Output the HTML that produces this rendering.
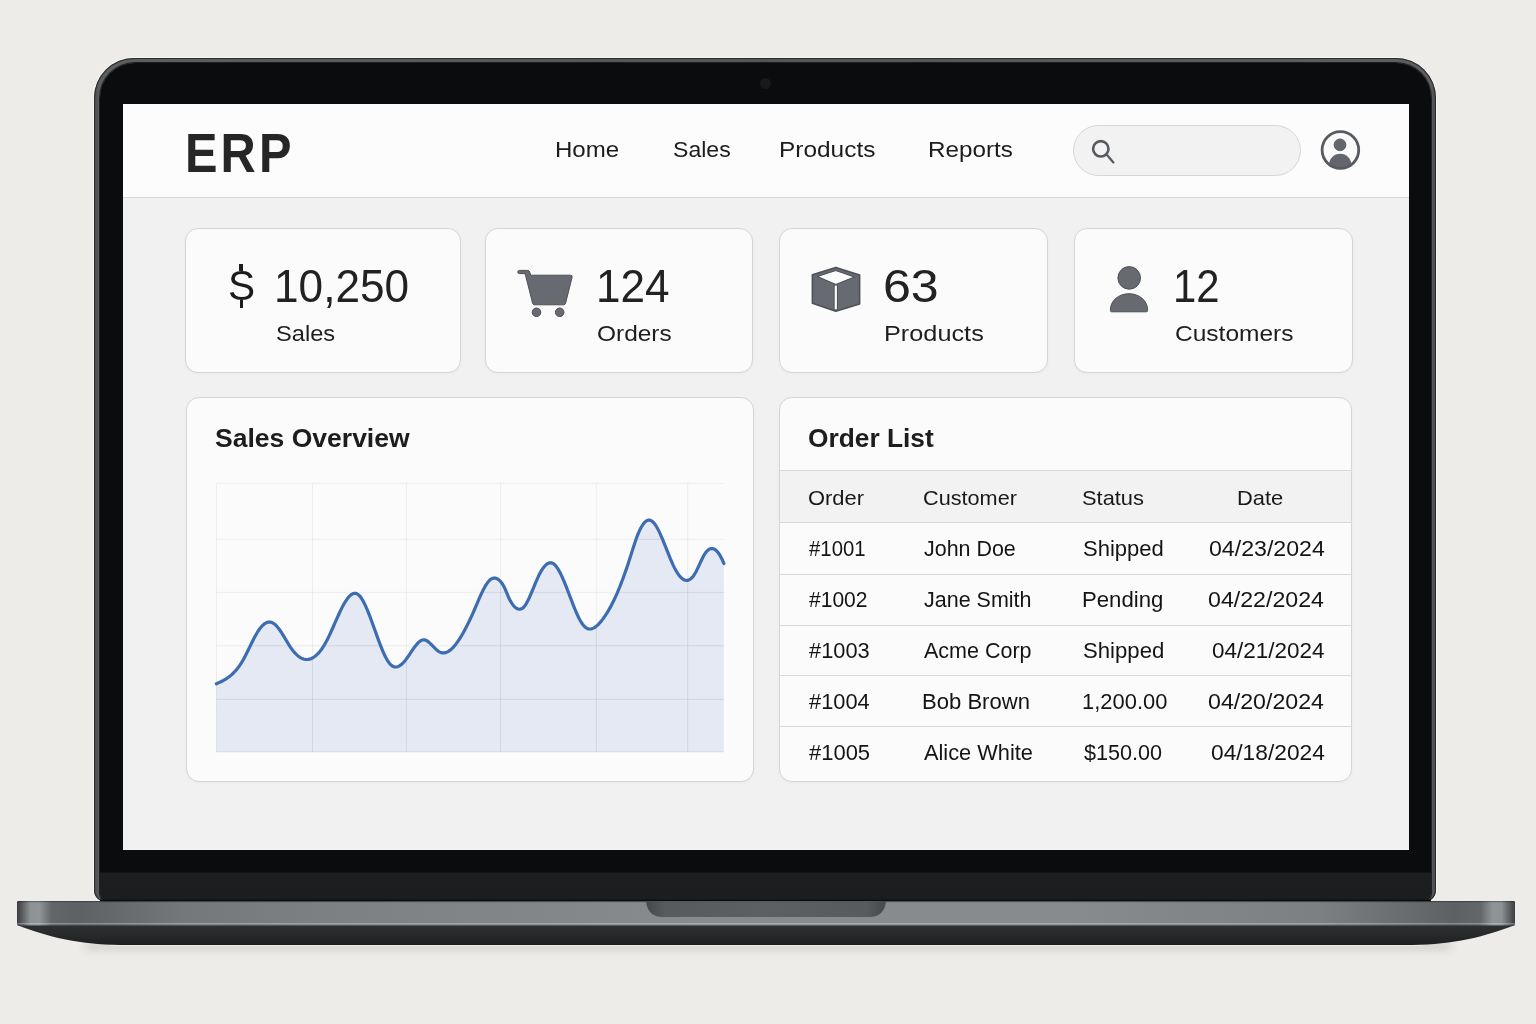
<!DOCTYPE html>
<html><head><meta charset="utf-8"><style>
*{margin:0;padding:0;box-sizing:border-box}
html,body{width:1536px;height:1024px;overflow:hidden;background:#edece8;font-family:"Liberation Sans", sans-serif}
.t{position:absolute;line-height:1;white-space:nowrap}
#lid{position:absolute;left:94px;top:57.5px;width:1342px;height:844px;border-radius:40px 40px 12px 12px;
 background:linear-gradient(90deg,#464849,#5c5e60 0.4%,#535557 50%,#5c5e60 99.6%,#464849);box-shadow:inset 0 0 0 1px #2a2b2d,0 0 0 1px rgba(255,255,255,0.55)}
#lidin{position:absolute;left:5.5px;top:5.5px;right:5.5px;bottom:0;border-radius:35px 35px 8px 8px;
 background:linear-gradient(180deg,#0b0c0e 0,#0b0c0e 809px,#1c1e20 810px,#1b1d1f 840px);box-shadow:0 0 0 1px #1f2022}
#cam{position:absolute;left:760.2px;top:78.3px;width:11px;height:11px;border-radius:50%;background:#18191b}
#screen{position:absolute;left:122.5px;top:103.5px;width:1286px;height:746px;background:#f1f1f1}
#header{position:absolute;left:122.5px;top:103.5px;width:1286px;height:94px;background:#fcfcfc;border-bottom:1px solid #d8d8d8}
#search{position:absolute;left:1072.5px;top:125px;width:228px;height:50.5px;border-radius:26px;background:#f2f2f2;border:1px solid #d6d6d6}
.card{position:absolute;background:#fcfbfb;border:1px solid #d5d5d5;border-radius:13px;box-shadow:0 1px 3px rgba(0,0,0,0.035)}
.hl{position:absolute;left:780px;width:572px;height:1px;background:#d9d9d9}
#thead{position:absolute;left:0;top:73px;width:100%;height:51px;background:#f2f2f2}
#base{position:absolute;left:17px;top:901px;width:1498px;height:25px;border-radius:2px 2px 0 0;
 background:linear-gradient(180deg,rgba(0,0,0,0.25) 0px,rgba(0,0,0,0) 1.5px,rgba(0,0,0,0) 22px,rgba(255,255,255,0.35) 23px,rgba(255,255,255,0.3) 24px,rgba(0,0,0,0.3) 25px),
 linear-gradient(90deg,#3a3c3e 0px,#54585b 4px,#8c9194 14px,#8f9497 22px,#62666a 34px,#5c6063 60px,#74787b 160px,#7c8083 300px,#868a8d 700px,#888c8f 1000px,#7e8285 1300px,#62666a 1462px,#8e9396 1478px,#8a8e91 1486px,#54585b 1494px,#3a3c3e 1498px)}
#notch{position:absolute;left:646px;top:902px;width:240px;height:15.5px;border-radius:0 0 16px 16px / 0 0 14px 14px;
 background:linear-gradient(90deg,#45494c 0%,#5a5e61 8%,#5e6265 50%,#5a5e61 92%,#45494c 100%)}
#basebot{position:absolute;left:17px;top:925.5px;width:1498px;height:19.5px;border-radius:0 0 95px 95px / 0 0 19.5px 19.5px;
 background:linear-gradient(180deg,#2c2e30 0%,#26282a 40%,#1d1f21 100%)}
#shadow{position:absolute;left:70px;top:925px;width:1396px;height:20px;border-radius:40%;box-shadow:0 10px 16px rgba(0,0,0,0.22)}
</style></head>
<body>
<div id="lid"><div id="lidin"></div></div><div style="position:absolute;left:106px;top:894px;width:1318px;height:8px;background:#1b1d1f"></div>
<div id="cam"></div>
<svg style="position:absolute;left:0;top:880px" width="1536" height="110" viewBox="0 880 1536 110">
<defs>
<filter id="bl" x="-10%" y="-200%" width="120%" height="500%"><feGaussianBlur stdDeviation="5"/></filter>
<linearGradient id="bh" x1="17" y1="0" x2="1515" y2="0" gradientUnits="userSpaceOnUse">
<stop offset="0" stop-color="#3a3c3e"/><stop offset="0.003" stop-color="#55595c"/><stop offset="0.009" stop-color="#8d9295"/>
<stop offset="0.015" stop-color="#8f9497"/><stop offset="0.023" stop-color="#63676a"/><stop offset="0.04" stop-color="#5d6164"/>
<stop offset="0.11" stop-color="#74787b"/><stop offset="0.2" stop-color="#7c8083"/><stop offset="0.45" stop-color="#878b8e"/>
<stop offset="0.7" stop-color="#878b8e"/><stop offset="0.87" stop-color="#7c8083"/><stop offset="0.96" stop-color="#5d6164"/>
<stop offset="0.977" stop-color="#63676a"/><stop offset="0.985" stop-color="#8f9497"/><stop offset="0.991" stop-color="#8d9295"/>
<stop offset="0.997" stop-color="#55595c"/><stop offset="1" stop-color="#3a3c3e"/></linearGradient>
<linearGradient id="bv" x1="0" y1="925" x2="0" y2="945" gradientUnits="userSpaceOnUse">
<stop offset="0" stop-color="#2e3032"/><stop offset="0.5" stop-color="#27292b"/><stop offset="1" stop-color="#1c1e20"/></linearGradient>
<linearGradient id="nh" x1="646" y1="0" x2="886" y2="0" gradientUnits="userSpaceOnUse">
<stop offset="0" stop-color="#44484b"/><stop offset="0.08" stop-color="#575b5e"/><stop offset="0.5" stop-color="#5c6063"/>
<stop offset="0.92" stop-color="#575b5e"/><stop offset="1" stop-color="#44484b"/></linearGradient>
</defs>
<path d="M85 943 L1451 943 L1451 949 L85 949 Z" fill="rgba(0,0,0,0.17)" filter="url(#bl)"/>
<path d="M17 925 C48 937 78 944.5 120 945 L1412 945 C1454 944.5 1484 937 1515 925 Z" fill="url(#bv)"/>
<path d="M17 945.2 M110 945.6 L1422 945.6" stroke="rgba(255,255,255,0.5)" stroke-width="1"/>
<rect x="17" y="901" width="1498" height="24.5" rx="1.5" fill="url(#bh)"/>
<rect x="17" y="901" width="1498" height="1.2" fill="rgba(0,0,0,0.3)"/>
<rect x="100" y="899.6" width="1331" height="1.6" fill="#0c0d0f"/>
<rect x="17" y="923" width="1498" height="1.3" fill="rgba(255,255,255,0.28)"/>
<path d="M646 901.5 C647.5 911 651.5 917 663 917 L869 917 C880.5 917 884.5 911 886 901.5 Z" fill="url(#nh)"/>
</svg>
<div id="screen"></div>
<div id="header"></div>
<div class="t" style="left:185.0px;top:126.0px;font-size:55px;font-weight:700;color:#262626;letter-spacing:3.5px;transform:scaleX(0.8861530875617353);transform-origin:0 0;">ERP</div>
<div class="t" style="left:555.0px;top:139.0px;font-size:22px;font-weight:400;color:#1c1c1c;letter-spacing:0px;transform:scaleX(1.0933317688638737);transform-origin:0 0;">Home</div>
<div class="t" style="left:672.6px;top:139.0px;font-size:22px;font-weight:400;color:#1c1c1c;letter-spacing:0px;transform:scaleX(1.0480200973459943);transform-origin:0 0;">Sales</div>
<div class="t" style="left:779.0px;top:139.0px;font-size:22px;font-weight:400;color:#1c1c1c;letter-spacing:0px;transform:scaleX(1.1105703552302721);transform-origin:0 0;">Products</div>
<div class="t" style="left:927.6px;top:139.0px;font-size:22px;font-weight:400;color:#1c1c1c;letter-spacing:0px;transform:scaleX(1.1008968909039187);transform-origin:0 0;">Reports</div>
<div id="search"></div>
<svg style="position:absolute;left:0;top:100px" width="1536" height="100" viewBox="0 100 1536 100">
<circle cx="1100.8" cy="148.8" r="7.7" fill="none" stroke="#575b60" stroke-width="2.6"/>
<line x1="1106.6" y1="154.6" x2="1113.4" y2="162.4" stroke="#575b60" stroke-width="2.3" stroke-linecap="round"/>
<defs><clipPath id="cc"><circle cx="1340.4" cy="150" r="18.3"/></clipPath></defs>
<circle cx="1340.4" cy="150" r="18.3" fill="#fafafa"/>
<circle cx="1340" cy="144.8" r="5.9" fill="#63676d" stroke="#4d5157" stroke-width="0.8"/>
<ellipse cx="1340.2" cy="165" rx="11.2" ry="11.3" fill="#63676d" clip-path="url(#cc)"/>
<circle cx="1340.4" cy="150" r="18.3" fill="none" stroke="#575b60" stroke-width="2.8"/></svg>
<div class="card" style="left:185px;top:228px;width:275.5px;height:145px"></div>
<div class="card" style="left:485px;top:228px;width:268.29999999999995px;height:145px"></div>
<div class="card" style="left:779px;top:228px;width:269.29999999999995px;height:145px"></div>
<div class="card" style="left:1074px;top:228px;width:279px;height:145px"></div>
<div class="t" style="left:228.1px;top:264.2px;font-size:43px;font-weight:400;color:#1c1c1c;letter-spacing:0px;transform:scaleX(0.94420930056711);transform-origin:0 0;">S</div>
<div style="position:absolute;left:239.3px;top:263.8px;width:3.7px;height:7px;background:#1c1c1c"></div>
<div style="position:absolute;left:239.6px;top:299.5px;width:3.7px;height:8.3px;background:#1c1c1c"></div>
<div class="t" style="left:273.6px;top:262.4px;font-size:47px;font-weight:400;color:#222;letter-spacing:0px;transform:scaleX(0.939939076622231);transform-origin:0 0;">10,250</div>
<div class="t" style="left:276.0px;top:323.9px;font-size:21.5px;font-weight:400;color:#1e1e1e;letter-spacing:0px;transform:scaleX(1.0990511340197688);transform-origin:0 0;">Sales</div>
<div class="t" style="left:596.0px;top:262.4px;font-size:47px;font-weight:400;color:#222;letter-spacing:0px;transform:scaleX(0.9372030994139298);transform-origin:0 0;">124</div>
<div class="t" style="left:597.0px;top:323.9px;font-size:21.5px;font-weight:400;color:#1e1e1e;letter-spacing:0px;transform:scaleX(1.137528825570547);transform-origin:0 0;">Orders</div>
<div class="t" style="left:882.6px;top:262.4px;font-size:47px;font-weight:400;color:#222;letter-spacing:0px;transform:scaleX(1.0650908548061326);transform-origin:0 0;">63</div>
<div class="t" style="left:884.2px;top:323.9px;font-size:21.5px;font-weight:400;color:#1e1e1e;letter-spacing:0px;transform:scaleX(1.1759486859690271);transform-origin:0 0;">Products</div>
<div class="t" style="left:1173.3px;top:262.4px;font-size:47px;font-weight:400;color:#222;letter-spacing:0px;transform:scaleX(0.8894179894179894);transform-origin:0 0;">12</div>
<div class="t" style="left:1175.0px;top:323.9px;font-size:21.5px;font-weight:400;color:#1e1e1e;letter-spacing:0px;transform:scaleX(1.140313476099118);transform-origin:0 0;">Customers</div>
<svg style="position:absolute;left:0;top:0" width="1536" height="400" viewBox="0 0 1536 400">
<g stroke="#4d5157" stroke-width="1" stroke-linejoin="round">
<path d="M519.4 270.4 H527.6 Q529.3 270.4 529.8 272.2 L530.6 275.2 H570.6 Q572.6 275.2 572.1 277.2 L565.6 303.2 Q565.2 304.8 563.6 304.8 H534.6 Q533 304.8 532.6 303.2 L525.1 273.6 H519.4 Q517.8 273.6 517.8 272 Q517.8 270.4 519.4 270.4 Z" fill="#676b71"/>
<circle cx="536.5" cy="312.3" r="4.3" fill="#676b71"/><circle cx="559.7" cy="312.3" r="4.3" fill="#676b71"/>
<path d="M835.8 267.4 L859.6 275 L859.6 303.9 L835.8 311.2 L812.4 303.2 L812.4 274.7 Z" fill="#676b71" stroke-width="1.6"/>
<path d="M835.8 270.4 L854.4 276.9 L835.8 284.6 L817.3 276.6 Z" fill="#fcfcfc" stroke-width="1.1"/>
<path d="M835.8 285.2 V309.6" stroke="#4d5157" stroke-width="4.2"/>
<path d="M835.8 285.6 V309.2" stroke="#fcfcfc" stroke-width="2.2"/>
<circle cx="1129.2" cy="277.9" r="11.3" fill="#676b71"/>
<path d="M1110.4 310.6 V309.5 A18.6 15.8 0 0 1 1147.6 309.5 V310.6 Q1147.6 311.8 1146.4 311.8 H1111.6 Q1110.4 311.8 1110.4 310.6 Z" fill="#676b71"/>
</g>
</svg>
<div class="card" style="left:185.5px;top:396.5px;width:568px;height:385px"></div>
<div class="card" style="left:779px;top:396.5px;width:573.4px;height:385px;overflow:hidden"><div id="thead"></div></div>
<div class="t" style="left:215.2px;top:425.2px;font-size:26px;font-weight:700;color:#1d1d1d;letter-spacing:0px;transform:scaleX(1.0200435431999266);transform-origin:0 0;">Sales Overview</div>
<div class="t" style="left:808.1px;top:425.2px;font-size:26px;font-weight:700;color:#1d1d1d;letter-spacing:0px;transform:scaleX(1.0116714705306344);transform-origin:0 0;">Order List</div>
<svg style="position:absolute;left:0;top:0" width="1536" height="1024" viewBox="0 0 1536 1024">
<defs><clipPath id="fillclip"><path d="M216.4 683.77 L217.4 683.33 L218.4 682.88 L219.4 682.42 L220.4 681.95 L221.4 681.46 L222.4 680.95 L223.4 680.42 L224.4 679.85 L225.4 679.26 L226.4 678.64 L227.4 677.97 L228.4 677.27 L229.4 676.52 L230.4 675.72 L231.4 674.87 L232.4 673.97 L233.4 673.01 L234.4 671.99 L235.4 670.90 L236.4 669.74 L237.4 668.52 L238.4 667.22 L239.4 665.84 L240.4 664.37 L241.4 662.83 L242.4 661.19 L243.4 659.46 L244.4 657.64 L245.4 655.74 L246.4 653.78 L247.4 651.77 L248.4 649.73 L249.4 647.67 L250.4 645.60 L251.4 643.55 L252.4 641.51 L253.4 639.52 L254.4 637.58 L255.4 635.72 L256.4 633.93 L257.4 632.24 L258.4 630.67 L259.4 629.22 L260.4 627.90 L261.4 626.70 L262.4 625.64 L263.4 624.71 L264.4 623.92 L265.4 623.26 L266.4 622.75 L267.4 622.37 L268.4 622.15 L269.4 622.07 L270.4 622.13 L271.4 622.36 L272.4 622.73 L273.4 623.26 L274.4 623.95 L275.4 624.80 L276.4 625.80 L277.4 626.93 L278.4 628.18 L279.4 629.53 L280.4 630.98 L281.4 632.49 L282.4 634.07 L283.4 635.69 L284.4 637.34 L285.4 639.01 L286.4 640.68 L287.4 642.34 L288.4 643.97 L289.4 645.55 L290.4 647.08 L291.4 648.53 L292.4 649.90 L293.4 651.18 L294.4 652.37 L295.4 653.46 L296.4 654.47 L297.4 655.39 L298.4 656.21 L299.4 656.94 L300.4 657.58 L301.4 658.13 L302.4 658.59 L303.4 658.95 L304.4 659.23 L305.4 659.40 L306.4 659.49 L307.4 659.48 L308.4 659.38 L309.4 659.19 L310.4 658.90 L311.4 658.52 L312.4 658.04 L313.4 657.47 L314.4 656.80 L315.4 656.04 L316.4 655.18 L317.4 654.23 L318.4 653.18 L319.4 652.04 L320.4 650.80 L321.4 649.47 L322.4 648.03 L323.4 646.50 L324.4 644.88 L325.4 643.16 L326.4 641.33 L327.4 639.42 L328.4 637.41 L329.4 635.34 L330.4 633.19 L331.4 631.00 L332.4 628.77 L333.4 626.51 L334.4 624.23 L335.4 621.96 L336.4 619.69 L337.4 617.43 L338.4 615.22 L339.4 613.04 L340.4 610.92 L341.4 608.87 L342.4 606.90 L343.4 605.02 L344.4 603.24 L345.4 601.58 L346.4 600.04 L347.4 598.64 L348.4 597.38 L349.4 596.27 L350.4 595.32 L351.4 594.54 L352.4 593.95 L353.4 593.55 L354.4 593.35 L355.4 593.36 L356.4 593.59 L357.4 594.05 L358.4 594.74 L359.4 595.68 L360.4 596.85 L361.4 598.23 L362.4 599.80 L363.4 601.56 L364.4 603.49 L365.4 605.57 L366.4 607.78 L367.4 610.13 L368.4 612.58 L369.4 615.12 L370.4 617.75 L371.4 620.44 L372.4 623.18 L373.4 625.95 L374.4 628.75 L375.4 631.55 L376.4 634.35 L377.4 637.12 L378.4 639.85 L379.4 642.53 L380.4 645.14 L381.4 647.67 L382.4 650.11 L383.4 652.43 L384.4 654.63 L385.4 656.70 L386.4 658.60 L387.4 660.34 L388.4 661.89 L389.4 663.25 L390.4 664.39 L391.4 665.32 L392.4 666.03 L393.4 666.54 L394.4 666.86 L395.4 666.99 L396.4 666.95 L397.4 666.75 L398.4 666.38 L399.4 665.87 L400.4 665.21 L401.4 664.43 L402.4 663.53 L403.4 662.51 L404.4 661.39 L405.4 660.17 L406.4 658.87 L407.4 657.49 L408.4 656.06 L409.4 654.59 L410.4 653.10 L411.4 651.61 L412.4 650.13 L413.4 648.68 L414.4 647.28 L415.4 645.95 L416.4 644.70 L417.4 643.55 L418.4 642.53 L419.4 641.64 L420.4 640.90 L421.4 640.33 L422.4 639.96 L423.4 639.79 L424.4 639.84 L425.4 640.09 L426.4 640.52 L427.4 641.12 L428.4 641.84 L429.4 642.68 L430.4 643.60 L431.4 644.58 L432.4 645.60 L433.4 646.64 L434.4 647.67 L435.4 648.67 L436.4 649.61 L437.4 650.47 L438.4 651.23 L439.4 651.86 L440.4 652.34 L441.4 652.68 L442.4 652.88 L443.4 652.94 L444.4 652.87 L445.4 652.67 L446.4 652.35 L447.4 651.91 L448.4 651.35 L449.4 650.69 L450.4 649.92 L451.4 649.06 L452.4 648.10 L453.4 647.05 L454.4 645.91 L455.4 644.69 L456.4 643.40 L457.4 642.03 L458.4 640.59 L459.4 639.09 L460.4 637.52 L461.4 635.89 L462.4 634.20 L463.4 632.45 L464.4 630.64 L465.4 628.77 L466.4 626.85 L467.4 624.88 L468.4 622.85 L469.4 620.78 L470.4 618.66 L471.4 616.50 L472.4 614.30 L473.4 612.05 L474.4 609.76 L475.4 607.44 L476.4 605.10 L477.4 602.76 L478.4 600.43 L479.4 598.13 L480.4 595.88 L481.4 593.69 L482.4 591.59 L483.4 589.58 L484.4 587.68 L485.4 585.92 L486.4 584.30 L487.4 582.84 L488.4 581.56 L489.4 580.48 L490.4 579.61 L491.4 578.93 L492.4 578.45 L493.4 578.17 L494.4 578.07 L495.4 578.17 L496.4 578.44 L497.4 578.91 L498.4 579.55 L499.4 580.36 L500.4 581.35 L501.4 582.53 L502.4 583.93 L503.4 585.57 L504.4 587.47 L505.4 589.66 L506.4 592.03 L507.4 594.46 L508.4 596.82 L509.4 598.98 L510.4 600.92 L511.4 602.65 L512.4 604.16 L513.4 605.47 L514.4 606.57 L515.4 607.48 L516.4 608.19 L517.4 608.72 L518.4 609.06 L519.4 609.21 L520.4 609.15 L521.4 608.86 L522.4 608.31 L523.4 607.48 L524.4 606.36 L525.4 604.99 L526.4 603.38 L527.4 601.57 L528.4 599.59 L529.4 597.45 L530.4 595.20 L531.4 592.86 L532.4 590.46 L533.4 588.03 L534.4 585.59 L535.4 583.18 L536.4 580.81 L537.4 578.53 L538.4 576.36 L539.4 574.33 L540.4 572.43 L541.4 570.69 L542.4 569.10 L543.4 567.68 L544.4 566.42 L545.4 565.34 L546.4 564.44 L547.4 563.73 L548.4 563.21 L549.4 562.88 L550.4 562.76 L551.4 562.86 L552.4 563.17 L553.4 563.70 L554.4 564.46 L555.4 565.45 L556.4 566.65 L557.4 568.06 L558.4 569.64 L559.4 571.40 L560.4 573.31 L561.4 575.36 L562.4 577.53 L563.4 579.81 L564.4 582.19 L565.4 584.64 L566.4 587.16 L567.4 589.73 L568.4 592.33 L569.4 594.95 L570.4 597.58 L571.4 600.19 L572.4 602.78 L573.4 605.33 L574.4 607.82 L575.4 610.24 L576.4 612.58 L577.4 614.81 L578.4 616.93 L579.4 618.92 L580.4 620.76 L581.4 622.45 L582.4 623.95 L583.4 625.27 L584.4 626.38 L585.4 627.29 L586.4 627.99 L587.4 628.51 L588.4 628.85 L589.4 629.02 L590.4 629.02 L591.4 628.88 L592.4 628.58 L593.4 628.15 L594.4 627.60 L595.4 626.92 L596.4 626.14 L597.4 625.26 L598.4 624.28 L599.4 623.22 L600.4 622.09 L601.4 620.89 L602.4 619.62 L603.4 618.29 L604.4 616.89 L605.4 615.43 L606.4 613.90 L607.4 612.30 L608.4 610.64 L609.4 608.91 L610.4 607.11 L611.4 605.24 L612.4 603.30 L613.4 601.29 L614.4 599.22 L615.4 597.07 L616.4 594.85 L617.4 592.56 L618.4 590.20 L619.4 587.76 L620.4 585.26 L621.4 582.69 L622.4 580.05 L623.4 577.35 L624.4 574.58 L625.4 571.75 L626.4 568.86 L627.4 565.91 L628.4 562.91 L629.4 559.85 L630.4 556.73 L631.4 553.57 L632.4 550.39 L633.4 547.24 L634.4 544.15 L635.4 541.16 L636.4 538.31 L637.4 535.64 L638.4 533.16 L639.4 530.89 L640.4 528.81 L641.4 526.95 L642.4 525.29 L643.4 523.86 L644.4 522.65 L645.4 521.67 L646.4 520.92 L647.4 520.41 L648.4 520.14 L649.4 520.12 L650.4 520.35 L651.4 520.82 L652.4 521.52 L653.4 522.45 L654.4 523.59 L655.4 524.94 L656.4 526.49 L657.4 528.22 L658.4 530.11 L659.4 532.14 L660.4 534.30 L661.4 536.57 L662.4 538.93 L663.4 541.35 L664.4 543.83 L665.4 546.35 L666.4 548.89 L667.4 551.42 L668.4 553.93 L669.4 556.41 L670.4 558.84 L671.4 561.19 L672.4 563.45 L673.4 565.60 L674.4 567.63 L675.4 569.52 L676.4 571.29 L677.4 572.91 L678.4 574.39 L679.4 575.71 L680.4 576.89 L681.4 577.90 L682.4 578.75 L683.4 579.43 L684.4 579.93 L685.4 580.26 L686.4 580.40 L687.4 580.35 L688.4 580.12 L689.4 579.69 L690.4 579.06 L691.4 578.22 L692.4 577.18 L693.4 575.93 L694.4 574.46 L695.4 572.78 L696.4 570.90 L697.4 568.88 L698.4 566.76 L699.4 564.58 L700.4 562.40 L701.4 560.27 L702.4 558.22 L703.4 556.30 L704.4 554.57 L705.4 553.05 L706.4 551.76 L707.4 550.69 L708.4 549.84 L709.4 549.20 L710.4 548.79 L711.4 548.58 L712.4 548.59 L713.4 548.81 L714.4 549.24 L715.4 549.88 L716.4 550.73 L717.4 551.78 L718.4 553.03 L719.4 554.48 L720.4 556.14 L721.4 558.00 L722.4 560.05 L723.4 562.29 L723.9 563.49 L723.9 752 L216.5 752 Z"/></clipPath></defs>
<path d="M216.4 683.77 L217.4 683.33 L218.4 682.88 L219.4 682.42 L220.4 681.95 L221.4 681.46 L222.4 680.95 L223.4 680.42 L224.4 679.85 L225.4 679.26 L226.4 678.64 L227.4 677.97 L228.4 677.27 L229.4 676.52 L230.4 675.72 L231.4 674.87 L232.4 673.97 L233.4 673.01 L234.4 671.99 L235.4 670.90 L236.4 669.74 L237.4 668.52 L238.4 667.22 L239.4 665.84 L240.4 664.37 L241.4 662.83 L242.4 661.19 L243.4 659.46 L244.4 657.64 L245.4 655.74 L246.4 653.78 L247.4 651.77 L248.4 649.73 L249.4 647.67 L250.4 645.60 L251.4 643.55 L252.4 641.51 L253.4 639.52 L254.4 637.58 L255.4 635.72 L256.4 633.93 L257.4 632.24 L258.4 630.67 L259.4 629.22 L260.4 627.90 L261.4 626.70 L262.4 625.64 L263.4 624.71 L264.4 623.92 L265.4 623.26 L266.4 622.75 L267.4 622.37 L268.4 622.15 L269.4 622.07 L270.4 622.13 L271.4 622.36 L272.4 622.73 L273.4 623.26 L274.4 623.95 L275.4 624.80 L276.4 625.80 L277.4 626.93 L278.4 628.18 L279.4 629.53 L280.4 630.98 L281.4 632.49 L282.4 634.07 L283.4 635.69 L284.4 637.34 L285.4 639.01 L286.4 640.68 L287.4 642.34 L288.4 643.97 L289.4 645.55 L290.4 647.08 L291.4 648.53 L292.4 649.90 L293.4 651.18 L294.4 652.37 L295.4 653.46 L296.4 654.47 L297.4 655.39 L298.4 656.21 L299.4 656.94 L300.4 657.58 L301.4 658.13 L302.4 658.59 L303.4 658.95 L304.4 659.23 L305.4 659.40 L306.4 659.49 L307.4 659.48 L308.4 659.38 L309.4 659.19 L310.4 658.90 L311.4 658.52 L312.4 658.04 L313.4 657.47 L314.4 656.80 L315.4 656.04 L316.4 655.18 L317.4 654.23 L318.4 653.18 L319.4 652.04 L320.4 650.80 L321.4 649.47 L322.4 648.03 L323.4 646.50 L324.4 644.88 L325.4 643.16 L326.4 641.33 L327.4 639.42 L328.4 637.41 L329.4 635.34 L330.4 633.19 L331.4 631.00 L332.4 628.77 L333.4 626.51 L334.4 624.23 L335.4 621.96 L336.4 619.69 L337.4 617.43 L338.4 615.22 L339.4 613.04 L340.4 610.92 L341.4 608.87 L342.4 606.90 L343.4 605.02 L344.4 603.24 L345.4 601.58 L346.4 600.04 L347.4 598.64 L348.4 597.38 L349.4 596.27 L350.4 595.32 L351.4 594.54 L352.4 593.95 L353.4 593.55 L354.4 593.35 L355.4 593.36 L356.4 593.59 L357.4 594.05 L358.4 594.74 L359.4 595.68 L360.4 596.85 L361.4 598.23 L362.4 599.80 L363.4 601.56 L364.4 603.49 L365.4 605.57 L366.4 607.78 L367.4 610.13 L368.4 612.58 L369.4 615.12 L370.4 617.75 L371.4 620.44 L372.4 623.18 L373.4 625.95 L374.4 628.75 L375.4 631.55 L376.4 634.35 L377.4 637.12 L378.4 639.85 L379.4 642.53 L380.4 645.14 L381.4 647.67 L382.4 650.11 L383.4 652.43 L384.4 654.63 L385.4 656.70 L386.4 658.60 L387.4 660.34 L388.4 661.89 L389.4 663.25 L390.4 664.39 L391.4 665.32 L392.4 666.03 L393.4 666.54 L394.4 666.86 L395.4 666.99 L396.4 666.95 L397.4 666.75 L398.4 666.38 L399.4 665.87 L400.4 665.21 L401.4 664.43 L402.4 663.53 L403.4 662.51 L404.4 661.39 L405.4 660.17 L406.4 658.87 L407.4 657.49 L408.4 656.06 L409.4 654.59 L410.4 653.10 L411.4 651.61 L412.4 650.13 L413.4 648.68 L414.4 647.28 L415.4 645.95 L416.4 644.70 L417.4 643.55 L418.4 642.53 L419.4 641.64 L420.4 640.90 L421.4 640.33 L422.4 639.96 L423.4 639.79 L424.4 639.84 L425.4 640.09 L426.4 640.52 L427.4 641.12 L428.4 641.84 L429.4 642.68 L430.4 643.60 L431.4 644.58 L432.4 645.60 L433.4 646.64 L434.4 647.67 L435.4 648.67 L436.4 649.61 L437.4 650.47 L438.4 651.23 L439.4 651.86 L440.4 652.34 L441.4 652.68 L442.4 652.88 L443.4 652.94 L444.4 652.87 L445.4 652.67 L446.4 652.35 L447.4 651.91 L448.4 651.35 L449.4 650.69 L450.4 649.92 L451.4 649.06 L452.4 648.10 L453.4 647.05 L454.4 645.91 L455.4 644.69 L456.4 643.40 L457.4 642.03 L458.4 640.59 L459.4 639.09 L460.4 637.52 L461.4 635.89 L462.4 634.20 L463.4 632.45 L464.4 630.64 L465.4 628.77 L466.4 626.85 L467.4 624.88 L468.4 622.85 L469.4 620.78 L470.4 618.66 L471.4 616.50 L472.4 614.30 L473.4 612.05 L474.4 609.76 L475.4 607.44 L476.4 605.10 L477.4 602.76 L478.4 600.43 L479.4 598.13 L480.4 595.88 L481.4 593.69 L482.4 591.59 L483.4 589.58 L484.4 587.68 L485.4 585.92 L486.4 584.30 L487.4 582.84 L488.4 581.56 L489.4 580.48 L490.4 579.61 L491.4 578.93 L492.4 578.45 L493.4 578.17 L494.4 578.07 L495.4 578.17 L496.4 578.44 L497.4 578.91 L498.4 579.55 L499.4 580.36 L500.4 581.35 L501.4 582.53 L502.4 583.93 L503.4 585.57 L504.4 587.47 L505.4 589.66 L506.4 592.03 L507.4 594.46 L508.4 596.82 L509.4 598.98 L510.4 600.92 L511.4 602.65 L512.4 604.16 L513.4 605.47 L514.4 606.57 L515.4 607.48 L516.4 608.19 L517.4 608.72 L518.4 609.06 L519.4 609.21 L520.4 609.15 L521.4 608.86 L522.4 608.31 L523.4 607.48 L524.4 606.36 L525.4 604.99 L526.4 603.38 L527.4 601.57 L528.4 599.59 L529.4 597.45 L530.4 595.20 L531.4 592.86 L532.4 590.46 L533.4 588.03 L534.4 585.59 L535.4 583.18 L536.4 580.81 L537.4 578.53 L538.4 576.36 L539.4 574.33 L540.4 572.43 L541.4 570.69 L542.4 569.10 L543.4 567.68 L544.4 566.42 L545.4 565.34 L546.4 564.44 L547.4 563.73 L548.4 563.21 L549.4 562.88 L550.4 562.76 L551.4 562.86 L552.4 563.17 L553.4 563.70 L554.4 564.46 L555.4 565.45 L556.4 566.65 L557.4 568.06 L558.4 569.64 L559.4 571.40 L560.4 573.31 L561.4 575.36 L562.4 577.53 L563.4 579.81 L564.4 582.19 L565.4 584.64 L566.4 587.16 L567.4 589.73 L568.4 592.33 L569.4 594.95 L570.4 597.58 L571.4 600.19 L572.4 602.78 L573.4 605.33 L574.4 607.82 L575.4 610.24 L576.4 612.58 L577.4 614.81 L578.4 616.93 L579.4 618.92 L580.4 620.76 L581.4 622.45 L582.4 623.95 L583.4 625.27 L584.4 626.38 L585.4 627.29 L586.4 627.99 L587.4 628.51 L588.4 628.85 L589.4 629.02 L590.4 629.02 L591.4 628.88 L592.4 628.58 L593.4 628.15 L594.4 627.60 L595.4 626.92 L596.4 626.14 L597.4 625.26 L598.4 624.28 L599.4 623.22 L600.4 622.09 L601.4 620.89 L602.4 619.62 L603.4 618.29 L604.4 616.89 L605.4 615.43 L606.4 613.90 L607.4 612.30 L608.4 610.64 L609.4 608.91 L610.4 607.11 L611.4 605.24 L612.4 603.30 L613.4 601.29 L614.4 599.22 L615.4 597.07 L616.4 594.85 L617.4 592.56 L618.4 590.20 L619.4 587.76 L620.4 585.26 L621.4 582.69 L622.4 580.05 L623.4 577.35 L624.4 574.58 L625.4 571.75 L626.4 568.86 L627.4 565.91 L628.4 562.91 L629.4 559.85 L630.4 556.73 L631.4 553.57 L632.4 550.39 L633.4 547.24 L634.4 544.15 L635.4 541.16 L636.4 538.31 L637.4 535.64 L638.4 533.16 L639.4 530.89 L640.4 528.81 L641.4 526.95 L642.4 525.29 L643.4 523.86 L644.4 522.65 L645.4 521.67 L646.4 520.92 L647.4 520.41 L648.4 520.14 L649.4 520.12 L650.4 520.35 L651.4 520.82 L652.4 521.52 L653.4 522.45 L654.4 523.59 L655.4 524.94 L656.4 526.49 L657.4 528.22 L658.4 530.11 L659.4 532.14 L660.4 534.30 L661.4 536.57 L662.4 538.93 L663.4 541.35 L664.4 543.83 L665.4 546.35 L666.4 548.89 L667.4 551.42 L668.4 553.93 L669.4 556.41 L670.4 558.84 L671.4 561.19 L672.4 563.45 L673.4 565.60 L674.4 567.63 L675.4 569.52 L676.4 571.29 L677.4 572.91 L678.4 574.39 L679.4 575.71 L680.4 576.89 L681.4 577.90 L682.4 578.75 L683.4 579.43 L684.4 579.93 L685.4 580.26 L686.4 580.40 L687.4 580.35 L688.4 580.12 L689.4 579.69 L690.4 579.06 L691.4 578.22 L692.4 577.18 L693.4 575.93 L694.4 574.46 L695.4 572.78 L696.4 570.90 L697.4 568.88 L698.4 566.76 L699.4 564.58 L700.4 562.40 L701.4 560.27 L702.4 558.22 L703.4 556.30 L704.4 554.57 L705.4 553.05 L706.4 551.76 L707.4 550.69 L708.4 549.84 L709.4 549.20 L710.4 548.79 L711.4 548.58 L712.4 548.59 L713.4 548.81 L714.4 549.24 L715.4 549.88 L716.4 550.73 L717.4 551.78 L718.4 553.03 L719.4 554.48 L720.4 556.14 L721.4 558.00 L722.4 560.05 L723.4 562.29 L723.9 563.49 L723.9 752 L216.5 752 Z" fill="#e4e9f4"/>
<g stroke="rgba(60,70,100,0.075)" stroke-width="1"><line x1="216.5" y1="483.4" x2="216.5" y2="752"/><line x1="312.5" y1="483.4" x2="312.5" y2="752"/><line x1="406.4" y1="483.4" x2="406.4" y2="752"/><line x1="500.6" y1="483.4" x2="500.6" y2="752"/><line x1="596.3" y1="483.4" x2="596.3" y2="752"/><line x1="687.7" y1="483.4" x2="687.7" y2="752"/><line x1="216.5" y1="483.4" x2="723.9" y2="483.4"/><line x1="216.5" y1="539.3" x2="723.9" y2="539.3"/><line x1="216.5" y1="592.4" x2="723.9" y2="592.4"/><line x1="216.5" y1="645.8" x2="723.9" y2="645.8"/><line x1="216.5" y1="699.3" x2="723.9" y2="699.3"/><line x1="216.5" y1="752" x2="723.9" y2="752"/></g>
<g stroke="rgba(60,70,110,0.035)" stroke-width="1" clip-path="url(#fillclip)"><line x1="216.5" y1="483.4" x2="216.5" y2="752"/><line x1="312.5" y1="483.4" x2="312.5" y2="752"/><line x1="406.4" y1="483.4" x2="406.4" y2="752"/><line x1="500.6" y1="483.4" x2="500.6" y2="752"/><line x1="596.3" y1="483.4" x2="596.3" y2="752"/><line x1="687.7" y1="483.4" x2="687.7" y2="752"/><line x1="216.5" y1="483.4" x2="723.9" y2="483.4"/><line x1="216.5" y1="539.3" x2="723.9" y2="539.3"/><line x1="216.5" y1="592.4" x2="723.9" y2="592.4"/><line x1="216.5" y1="645.8" x2="723.9" y2="645.8"/><line x1="216.5" y1="699.3" x2="723.9" y2="699.3"/><line x1="216.5" y1="752" x2="723.9" y2="752"/></g>
<path d="M216.4 683.77 L217.4 683.33 L218.4 682.88 L219.4 682.42 L220.4 681.95 L221.4 681.46 L222.4 680.95 L223.4 680.42 L224.4 679.85 L225.4 679.26 L226.4 678.64 L227.4 677.97 L228.4 677.27 L229.4 676.52 L230.4 675.72 L231.4 674.87 L232.4 673.97 L233.4 673.01 L234.4 671.99 L235.4 670.90 L236.4 669.74 L237.4 668.52 L238.4 667.22 L239.4 665.84 L240.4 664.37 L241.4 662.83 L242.4 661.19 L243.4 659.46 L244.4 657.64 L245.4 655.74 L246.4 653.78 L247.4 651.77 L248.4 649.73 L249.4 647.67 L250.4 645.60 L251.4 643.55 L252.4 641.51 L253.4 639.52 L254.4 637.58 L255.4 635.72 L256.4 633.93 L257.4 632.24 L258.4 630.67 L259.4 629.22 L260.4 627.90 L261.4 626.70 L262.4 625.64 L263.4 624.71 L264.4 623.92 L265.4 623.26 L266.4 622.75 L267.4 622.37 L268.4 622.15 L269.4 622.07 L270.4 622.13 L271.4 622.36 L272.4 622.73 L273.4 623.26 L274.4 623.95 L275.4 624.80 L276.4 625.80 L277.4 626.93 L278.4 628.18 L279.4 629.53 L280.4 630.98 L281.4 632.49 L282.4 634.07 L283.4 635.69 L284.4 637.34 L285.4 639.01 L286.4 640.68 L287.4 642.34 L288.4 643.97 L289.4 645.55 L290.4 647.08 L291.4 648.53 L292.4 649.90 L293.4 651.18 L294.4 652.37 L295.4 653.46 L296.4 654.47 L297.4 655.39 L298.4 656.21 L299.4 656.94 L300.4 657.58 L301.4 658.13 L302.4 658.59 L303.4 658.95 L304.4 659.23 L305.4 659.40 L306.4 659.49 L307.4 659.48 L308.4 659.38 L309.4 659.19 L310.4 658.90 L311.4 658.52 L312.4 658.04 L313.4 657.47 L314.4 656.80 L315.4 656.04 L316.4 655.18 L317.4 654.23 L318.4 653.18 L319.4 652.04 L320.4 650.80 L321.4 649.47 L322.4 648.03 L323.4 646.50 L324.4 644.88 L325.4 643.16 L326.4 641.33 L327.4 639.42 L328.4 637.41 L329.4 635.34 L330.4 633.19 L331.4 631.00 L332.4 628.77 L333.4 626.51 L334.4 624.23 L335.4 621.96 L336.4 619.69 L337.4 617.43 L338.4 615.22 L339.4 613.04 L340.4 610.92 L341.4 608.87 L342.4 606.90 L343.4 605.02 L344.4 603.24 L345.4 601.58 L346.4 600.04 L347.4 598.64 L348.4 597.38 L349.4 596.27 L350.4 595.32 L351.4 594.54 L352.4 593.95 L353.4 593.55 L354.4 593.35 L355.4 593.36 L356.4 593.59 L357.4 594.05 L358.4 594.74 L359.4 595.68 L360.4 596.85 L361.4 598.23 L362.4 599.80 L363.4 601.56 L364.4 603.49 L365.4 605.57 L366.4 607.78 L367.4 610.13 L368.4 612.58 L369.4 615.12 L370.4 617.75 L371.4 620.44 L372.4 623.18 L373.4 625.95 L374.4 628.75 L375.4 631.55 L376.4 634.35 L377.4 637.12 L378.4 639.85 L379.4 642.53 L380.4 645.14 L381.4 647.67 L382.4 650.11 L383.4 652.43 L384.4 654.63 L385.4 656.70 L386.4 658.60 L387.4 660.34 L388.4 661.89 L389.4 663.25 L390.4 664.39 L391.4 665.32 L392.4 666.03 L393.4 666.54 L394.4 666.86 L395.4 666.99 L396.4 666.95 L397.4 666.75 L398.4 666.38 L399.4 665.87 L400.4 665.21 L401.4 664.43 L402.4 663.53 L403.4 662.51 L404.4 661.39 L405.4 660.17 L406.4 658.87 L407.4 657.49 L408.4 656.06 L409.4 654.59 L410.4 653.10 L411.4 651.61 L412.4 650.13 L413.4 648.68 L414.4 647.28 L415.4 645.95 L416.4 644.70 L417.4 643.55 L418.4 642.53 L419.4 641.64 L420.4 640.90 L421.4 640.33 L422.4 639.96 L423.4 639.79 L424.4 639.84 L425.4 640.09 L426.4 640.52 L427.4 641.12 L428.4 641.84 L429.4 642.68 L430.4 643.60 L431.4 644.58 L432.4 645.60 L433.4 646.64 L434.4 647.67 L435.4 648.67 L436.4 649.61 L437.4 650.47 L438.4 651.23 L439.4 651.86 L440.4 652.34 L441.4 652.68 L442.4 652.88 L443.4 652.94 L444.4 652.87 L445.4 652.67 L446.4 652.35 L447.4 651.91 L448.4 651.35 L449.4 650.69 L450.4 649.92 L451.4 649.06 L452.4 648.10 L453.4 647.05 L454.4 645.91 L455.4 644.69 L456.4 643.40 L457.4 642.03 L458.4 640.59 L459.4 639.09 L460.4 637.52 L461.4 635.89 L462.4 634.20 L463.4 632.45 L464.4 630.64 L465.4 628.77 L466.4 626.85 L467.4 624.88 L468.4 622.85 L469.4 620.78 L470.4 618.66 L471.4 616.50 L472.4 614.30 L473.4 612.05 L474.4 609.76 L475.4 607.44 L476.4 605.10 L477.4 602.76 L478.4 600.43 L479.4 598.13 L480.4 595.88 L481.4 593.69 L482.4 591.59 L483.4 589.58 L484.4 587.68 L485.4 585.92 L486.4 584.30 L487.4 582.84 L488.4 581.56 L489.4 580.48 L490.4 579.61 L491.4 578.93 L492.4 578.45 L493.4 578.17 L494.4 578.07 L495.4 578.17 L496.4 578.44 L497.4 578.91 L498.4 579.55 L499.4 580.36 L500.4 581.35 L501.4 582.53 L502.4 583.93 L503.4 585.57 L504.4 587.47 L505.4 589.66 L506.4 592.03 L507.4 594.46 L508.4 596.82 L509.4 598.98 L510.4 600.92 L511.4 602.65 L512.4 604.16 L513.4 605.47 L514.4 606.57 L515.4 607.48 L516.4 608.19 L517.4 608.72 L518.4 609.06 L519.4 609.21 L520.4 609.15 L521.4 608.86 L522.4 608.31 L523.4 607.48 L524.4 606.36 L525.4 604.99 L526.4 603.38 L527.4 601.57 L528.4 599.59 L529.4 597.45 L530.4 595.20 L531.4 592.86 L532.4 590.46 L533.4 588.03 L534.4 585.59 L535.4 583.18 L536.4 580.81 L537.4 578.53 L538.4 576.36 L539.4 574.33 L540.4 572.43 L541.4 570.69 L542.4 569.10 L543.4 567.68 L544.4 566.42 L545.4 565.34 L546.4 564.44 L547.4 563.73 L548.4 563.21 L549.4 562.88 L550.4 562.76 L551.4 562.86 L552.4 563.17 L553.4 563.70 L554.4 564.46 L555.4 565.45 L556.4 566.65 L557.4 568.06 L558.4 569.64 L559.4 571.40 L560.4 573.31 L561.4 575.36 L562.4 577.53 L563.4 579.81 L564.4 582.19 L565.4 584.64 L566.4 587.16 L567.4 589.73 L568.4 592.33 L569.4 594.95 L570.4 597.58 L571.4 600.19 L572.4 602.78 L573.4 605.33 L574.4 607.82 L575.4 610.24 L576.4 612.58 L577.4 614.81 L578.4 616.93 L579.4 618.92 L580.4 620.76 L581.4 622.45 L582.4 623.95 L583.4 625.27 L584.4 626.38 L585.4 627.29 L586.4 627.99 L587.4 628.51 L588.4 628.85 L589.4 629.02 L590.4 629.02 L591.4 628.88 L592.4 628.58 L593.4 628.15 L594.4 627.60 L595.4 626.92 L596.4 626.14 L597.4 625.26 L598.4 624.28 L599.4 623.22 L600.4 622.09 L601.4 620.89 L602.4 619.62 L603.4 618.29 L604.4 616.89 L605.4 615.43 L606.4 613.90 L607.4 612.30 L608.4 610.64 L609.4 608.91 L610.4 607.11 L611.4 605.24 L612.4 603.30 L613.4 601.29 L614.4 599.22 L615.4 597.07 L616.4 594.85 L617.4 592.56 L618.4 590.20 L619.4 587.76 L620.4 585.26 L621.4 582.69 L622.4 580.05 L623.4 577.35 L624.4 574.58 L625.4 571.75 L626.4 568.86 L627.4 565.91 L628.4 562.91 L629.4 559.85 L630.4 556.73 L631.4 553.57 L632.4 550.39 L633.4 547.24 L634.4 544.15 L635.4 541.16 L636.4 538.31 L637.4 535.64 L638.4 533.16 L639.4 530.89 L640.4 528.81 L641.4 526.95 L642.4 525.29 L643.4 523.86 L644.4 522.65 L645.4 521.67 L646.4 520.92 L647.4 520.41 L648.4 520.14 L649.4 520.12 L650.4 520.35 L651.4 520.82 L652.4 521.52 L653.4 522.45 L654.4 523.59 L655.4 524.94 L656.4 526.49 L657.4 528.22 L658.4 530.11 L659.4 532.14 L660.4 534.30 L661.4 536.57 L662.4 538.93 L663.4 541.35 L664.4 543.83 L665.4 546.35 L666.4 548.89 L667.4 551.42 L668.4 553.93 L669.4 556.41 L670.4 558.84 L671.4 561.19 L672.4 563.45 L673.4 565.60 L674.4 567.63 L675.4 569.52 L676.4 571.29 L677.4 572.91 L678.4 574.39 L679.4 575.71 L680.4 576.89 L681.4 577.90 L682.4 578.75 L683.4 579.43 L684.4 579.93 L685.4 580.26 L686.4 580.40 L687.4 580.35 L688.4 580.12 L689.4 579.69 L690.4 579.06 L691.4 578.22 L692.4 577.18 L693.4 575.93 L694.4 574.46 L695.4 572.78 L696.4 570.90 L697.4 568.88 L698.4 566.76 L699.4 564.58 L700.4 562.40 L701.4 560.27 L702.4 558.22 L703.4 556.30 L704.4 554.57 L705.4 553.05 L706.4 551.76 L707.4 550.69 L708.4 549.84 L709.4 549.20 L710.4 548.79 L711.4 548.58 L712.4 548.59 L713.4 548.81 L714.4 549.24 L715.4 549.88 L716.4 550.73 L717.4 551.78 L718.4 553.03 L719.4 554.48 L720.4 556.14 L721.4 558.00 L722.4 560.05 L723.4 562.29 L723.9 563.49" fill="none" stroke="#3d6db0" stroke-width="3.2" stroke-linecap="round"/>
</svg>
<div class="hl" style="top:470px"></div>
<div class="hl" style="top:521.5px"></div>
<div class="hl" style="top:573.5px"></div>
<div class="hl" style="top:624.5px"></div>
<div class="hl" style="top:675px"></div>
<div class="hl" style="top:726px"></div>
<div class="t" style="left:808.1px;top:486.8px;font-size:21px;font-weight:400;color:#181818;letter-spacing:0px;transform:scaleX(1.0432542944226668);transform-origin:0 0;">Order</div>
<div class="t" style="left:923.3px;top:486.8px;font-size:21px;font-weight:400;color:#181818;letter-spacing:0px;transform:scaleX(1.031484827895182);transform-origin:0 0;">Customer</div>
<div class="t" style="left:1082.3px;top:486.8px;font-size:21px;font-weight:400;color:#181818;letter-spacing:0px;transform:scaleX(1.0404992559119959);transform-origin:0 0;">Status</div>
<div class="t" style="left:1237.3px;top:486.8px;font-size:21px;font-weight:400;color:#181818;letter-spacing:0px;transform:scaleX(1.0432354650287219);transform-origin:0 0;">Date</div>
<div class="t" style="left:809.0px;top:538.3px;font-size:21.2px;font-weight:400;color:#141414;letter-spacing:0px;transform:scaleX(0.9603961057865398);transform-origin:0 0;">#1001</div>
<div class="t" style="left:924.3px;top:538.3px;font-size:21.2px;font-weight:400;color:#141414;letter-spacing:0px;transform:scaleX(1.0115557889989346);transform-origin:0 0;">John Doe</div>
<div class="t" style="left:1082.8px;top:538.3px;font-size:21.2px;font-weight:400;color:#141414;letter-spacing:0px;transform:scaleX(1.0389935801967163);transform-origin:0 0;">Shipped</div>
<div class="t" style="left:1209.4px;top:538.3px;font-size:21.2px;font-weight:400;color:#141414;letter-spacing:0px;transform:scaleX(1.0924980476989008);transform-origin:0 0;">04/23/2024</div>
<div class="t" style="left:809.0px;top:589.2px;font-size:21.2px;font-weight:400;color:#141414;letter-spacing:0px;transform:scaleX(0.9933103536268157);transform-origin:0 0;">#1002</div>
<div class="t" style="left:924.3px;top:589.2px;font-size:21.2px;font-weight:400;color:#141414;letter-spacing:0px;transform:scaleX(1.013960797628383);transform-origin:0 0;">Jane Smith</div>
<div class="t" style="left:1081.8px;top:589.2px;font-size:21.2px;font-weight:400;color:#141414;letter-spacing:0px;transform:scaleX(1.046157067680419);transform-origin:0 0;">Pending</div>
<div class="t" style="left:1208.4px;top:589.2px;font-size:21.2px;font-weight:400;color:#141414;letter-spacing:0px;transform:scaleX(1.093496375126231);transform-origin:0 0;">04/22/2024</div>
<div class="t" style="left:809.0px;top:640.0px;font-size:21.2px;font-weight:400;color:#141414;letter-spacing:0px;transform:scaleX(1.0300884234676813);transform-origin:0 0;">#1003</div>
<div class="t" style="left:924.3px;top:640.0px;font-size:21.2px;font-weight:400;color:#141414;letter-spacing:0px;transform:scaleX(1.0149029228461512);transform-origin:0 0;">Acme Corp</div>
<div class="t" style="left:1082.8px;top:640.0px;font-size:21.2px;font-weight:400;color:#141414;letter-spacing:0px;transform:scaleX(1.0461501752892102);transform-origin:0 0;">Shipped</div>
<div class="t" style="left:1211.7px;top:640.0px;font-size:21.2px;font-weight:400;color:#141414;letter-spacing:0px;transform:scaleX(1.060783469651313);transform-origin:0 0;">04/21/2024</div>
<div class="t" style="left:809.0px;top:690.7px;font-size:21.2px;font-weight:400;color:#141414;letter-spacing:0px;transform:scaleX(1.030651621074826);transform-origin:0 0;">#1004</div>
<div class="t" style="left:922.3px;top:690.7px;font-size:21.2px;font-weight:400;color:#141414;letter-spacing:0px;transform:scaleX(1.0412857475358024);transform-origin:0 0;">Bob Brown</div>
<div class="t" style="left:1081.8px;top:690.7px;font-size:21.2px;font-weight:400;color:#141414;letter-spacing:0px;transform:scaleX(1.0352309980251577);transform-origin:0 0;">1,200.00</div>
<div class="t" style="left:1208.4px;top:690.7px;font-size:21.2px;font-weight:400;color:#141414;letter-spacing:0px;transform:scaleX(1.093496375126231);transform-origin:0 0;">04/20/2024</div>
<div class="t" style="left:809.0px;top:741.7px;font-size:21.2px;font-weight:400;color:#141414;letter-spacing:0px;transform:scaleX(1.0368663594470044);transform-origin:0 0;">#1005</div>
<div class="t" style="left:924.3px;top:741.7px;font-size:21.2px;font-weight:400;color:#141414;letter-spacing:0px;transform:scaleX(1.0284410054452466);transform-origin:0 0;">Alice White</div>
<div class="t" style="left:1083.8px;top:741.7px;font-size:21.2px;font-weight:400;color:#141414;letter-spacing:0px;transform:scaleX(1.019545244742834);transform-origin:0 0;">$150.00</div>
<div class="t" style="left:1211.3px;top:741.7px;font-size:21.2px;font-weight:400;color:#141414;letter-spacing:0px;transform:scaleX(1.073718813661302);transform-origin:0 0;">04/18/2024</div>
</body></html>
